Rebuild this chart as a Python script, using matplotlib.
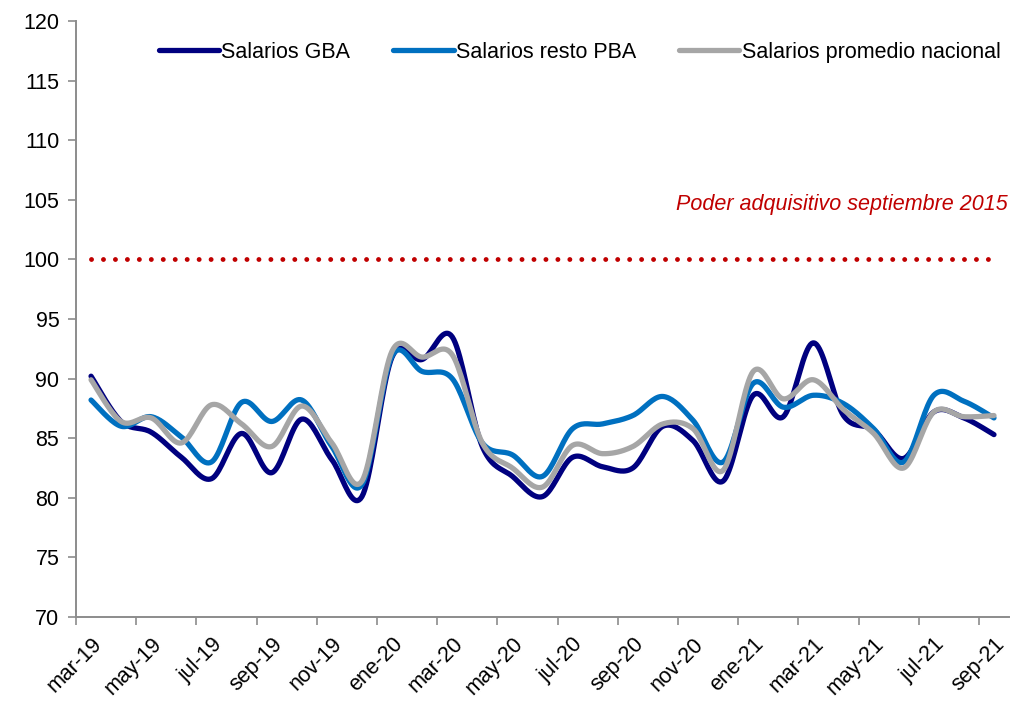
import matplotlib
matplotlib.use("Agg")
import matplotlib.pyplot as plt
import numpy as np

# datos mensuales mar-19 .. sep-21
meses = ['mar-19', 'abr-19', 'may-19', 'jun-19', 'jul-19', 'ago-19', 'sep-19', 'oct-19',
         'nov-19', 'dic-19', 'ene-20', 'feb-20', 'mar-20', 'abr-20', 'may-20', 'jun-20',
         'jul-20', 'ago-20', 'sep-20', 'oct-20', 'nov-20', 'dic-20', 'ene-21', 'feb-21',
         'mar-21', 'abr-21', 'may-21', 'jun-21', 'jul-21', 'ago-21', 'sep-21']
gba = [90.2, 86.4, 85.5, 83.4, 81.6, 85.4, 82.1, 86.6, 83.2, 80.1, 91.8, 91.6, 93.5, 84.3,
       81.8, 80.1, 83.4, 82.6, 82.5, 86.0, 84.8, 81.4, 88.6, 86.8, 93.0, 86.9, 85.7, 83.3,
       87.2, 86.7, 85.3]
resto_pba = [88.2, 86.0, 86.8, 85.1, 83.0, 88.0, 86.4, 88.2, 84.3, 81.1, 91.9, 90.6, 90.0,
             84.6, 83.6, 81.8, 85.8, 86.2, 86.9, 88.5, 86.5, 83.0, 89.6, 87.6, 88.6, 87.9,
             85.8, 83.0, 88.6, 88.1, 86.7]
nacional = [89.9, 86.4, 86.7, 84.6, 87.8, 86.2, 84.3, 87.7, 84.6, 81.4, 92.3, 91.8, 92.0,
            84.6, 82.5, 80.9, 84.4, 83.7, 84.3, 86.2, 85.8, 82.3, 90.6, 88.3, 89.9, 87.4,
            85.4, 82.5, 87.2, 86.8, 86.9]
referencia = 100

plt.rcParams['font.family'] = ['Liberation Sans Narrow', 'Liberation Sans', 'DejaVu Sans']
plt.rcParams['font.size'] = 15.5


# suavizado tipo Excel (Catmull-Rom)
def suavizar(y, n=20):
    y = np.asarray(y, dtype=float)
    x = np.arange(len(y), dtype=float)
    xp = np.concatenate([[x[0]], x, [x[-1]]])
    yp = np.concatenate([[y[0]], y, [y[-1]]])
    xs, ys = [], []
    for i in range(len(y) - 1):
        p0, p1, p2, p3 = yp[i], yp[i + 1], yp[i + 2], yp[i + 3]
        q0, q1, q2, q3 = xp[i], xp[i + 1], xp[i + 2], xp[i + 3]
        c1y = p1 + (p2 - p0) / 6
        c2y = p2 - (p3 - p1) / 6
        c1x = q1 + (q2 - q0) / 6
        c2x = q2 - (q3 - q1) / 6
        t = np.linspace(0, 1, n, endpoint=False)
        b0, b1, b2, b3 = (1 - t) ** 3, 3 * t * (1 - t) ** 2, 3 * t ** 2 * (1 - t), t ** 3
        xs.append(b0 * q1 + b1 * c1x + b2 * c2x + b3 * q2)
        ys.append(b0 * p1 + b1 * c1y + b2 * c2y + b3 * p2)
    xs.append([x[-1]])
    ys.append([y[-1]])
    return np.concatenate(xs), np.concatenate(ys)


fig = plt.figure(figsize=(10.27, 7.04), dpi=100)
ax = fig.add_axes([0.074, 0.1236, 0.9085, 0.8466])

x = np.arange(len(meses))
ax.plot(x, [referencia] * len(x), color='#C00000', lw=3.5,
        linestyle=(0, (0.01, 2.45)), dash_capstyle='round')

for serie, color, nombre in [(gba, '#00007F', 'Salarios GBA'),
                             (resto_pba, '#0070C0', 'Salarios resto PBA'),
                             (nacional, '#A6A6A6', 'Salarios promedio nacional')]:
    xs, ys = suavizar(serie)
    ax.plot(xs, ys, color=color, lw=3.8, label=nombre, solid_capstyle='round')

ax.text(30.45, 104.6, 'Poder adquisitivo septiembre 2015', color='#C00000',
        style='italic', ha='right', va='center')

ax.set_xlim(-0.5, len(meses) - 0.5)
ax.set_ylim(70, 120)
ax.set_yticks(np.arange(70, 121, 5))
ax.set_xticks(x[::2])
ax.set_xticklabels(meses[::2], rotation=45, ha='right', rotation_mode='anchor')
ax.set_xticks(np.arange(-0.5, len(meses) - 1, 2), minor=True)
ax.tick_params(axis='x', which='major', length=0, pad=12)
ax.tick_params(axis='x', which='minor', length=6, color='#8C8C8C', width=1.2)
ax.tick_params(axis='y', length=6, color='#8C8C8C', width=1.2, pad=6)

for s in ['top', 'right']:
    ax.spines[s].set_visible(False)
for s in ['left', 'bottom']:
    ax.spines[s].set_color('#8C8C8C')
    ax.spines[s].set_linewidth(1.4)

ax.legend(loc='upper right', bbox_to_anchor=(1.0, 0.98), ncol=3, frameon=False,
          handlelength=2.8, handletextpad=0.1, columnspacing=2.0, borderaxespad=0.0)

fig.savefig('out.png', dpi=100)
